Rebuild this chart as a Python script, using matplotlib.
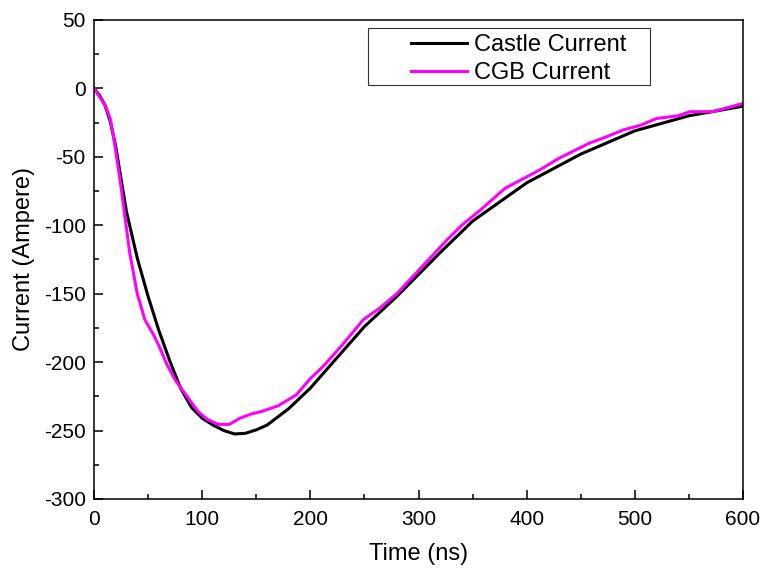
import matplotlib
matplotlib.use("Agg")
import matplotlib.pyplot as plt
from matplotlib.ticker import MultipleLocator
from matplotlib.patches import Rectangle

plt.rcParams['font.family'] = ['Liberation Sans', 'DejaVu Sans']
plt.rcParams['axes.unicode_minus'] = False

# Castle current (black)
castle_t = [0, 5, 10, 15, 20, 30, 40, 50, 60, 70, 80, 90, 100, 110, 120, 130,
            140, 150, 160, 170, 180, 200, 220, 250, 280, 300, 320, 350, 400,
            450, 500, 550, 575, 600]
castle_i = [0, -5, -12, -24, -42, -90, -124, -152, -177, -199, -219, -233,
            -241, -246, -250, -252.5, -252, -249.5, -246, -240, -234, -219,
            -201, -174, -152, -136, -120, -97, -69, -48, -31, -20, -16.5, -13]

# CGB current (magenta)
cgb_t = [0, 5, 10, 15, 18, 25, 33, 40, 47, 55, 60, 67, 75, 86, 96, 105, 115,
         125, 135, 145, 155, 170, 187, 200, 212, 230, 249, 265, 280, 300, 326,
         340, 357, 380, 412, 430, 458, 475, 489, 505, 520, 540, 551, 572, 600]
cgb_i = [0, -6, -12, -22, -35, -72, -120, -150, -169, -180, -188, -201, -213,
         -225, -236, -242, -245.5, -245.5, -241, -238, -236, -232, -224, -212,
         -203, -187, -169, -160, -150, -133, -111, -100, -89, -73, -59.6, -51,
         -40, -35, -30.4, -27, -22, -20, -17, -17, -11]

fig = plt.figure(figsize=(7.63, 5.74), dpi=100)
ax = fig.add_axes([0.1232, 0.1307, 0.8506, 0.8345])

ax.plot(castle_t, castle_i, color='black', lw=2.2, label='Castle Current')
ax.plot(cgb_t, cgb_i, color='#FF00FF', lw=2.2, label='CGB Current')

ax.set_xlim(0, 600)
ax.set_ylim(-300, 50)
ax.xaxis.set_major_locator(MultipleLocator(100))
ax.xaxis.set_minor_locator(MultipleLocator(50))
ax.yaxis.set_major_locator(MultipleLocator(50))
ax.yaxis.set_minor_locator(MultipleLocator(25))
ax.tick_params(which='both', direction='in', top=False, right=False,
               labelsize=15, width=1.1)
ax.tick_params(which='major', length=6.5)
ax.tick_params(which='minor', length=3.5)
ax.tick_params(axis='x', pad=8)
ax.tick_params(axis='y', pad=6)
for s in ax.spines.values():
    s.set_linewidth(1.1)

ax.set_xlabel('Time (ns)', fontsize=17, labelpad=10)
ax.set_ylabel('Current (Ampere)', fontsize=17, labelpad=6)

# legend without frame, frame drawn separately (handles sit right of a wide margin)
leg = ax.legend(loc='upper left', bbox_to_anchor=(0.539, 0.941),
                bbox_transform=fig.transFigure, fontsize=17, frameon=False,
                borderpad=0, handlelength=2.35, labelspacing=0.27,
                handletextpad=0.3, borderaxespad=0)
fig.patches.append(Rectangle((0.4823, 0.8519), 0.3696, 0.0993,
                             transform=fig.transFigure, fill=False,
                             edgecolor='#333333', lw=0.8))

fig.savefig('out.png', dpi=100)
